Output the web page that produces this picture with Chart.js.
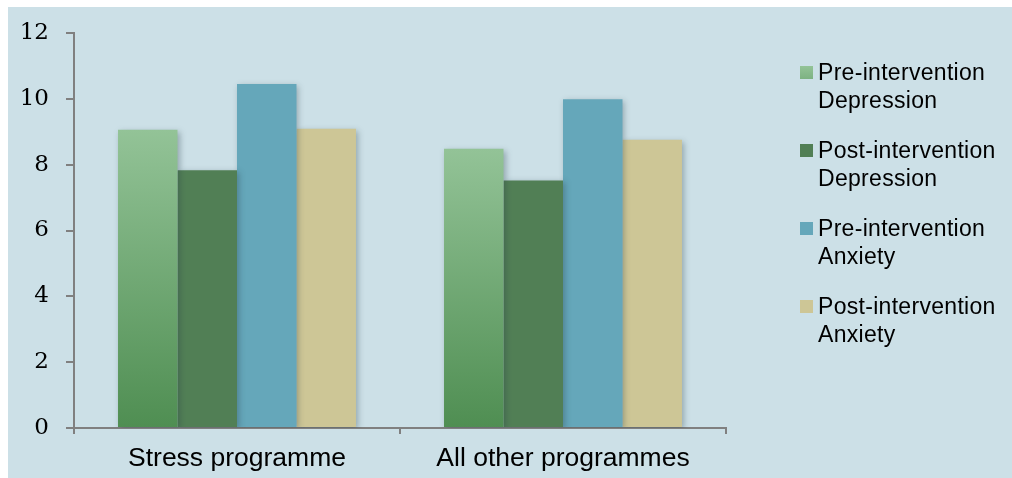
<!DOCTYPE html>
<html>
<head>
<meta charset="utf-8">
<script src="https://cdn.jsdelivr.net/npm/chart.js@4.4.1/dist/chart.umd.min.js"></script>
<style>
	html, body { margin: 0; padding: 0; background: #ffffff; }
	#wrap { position: relative; width: 1012px; height: 478px; overflow: hidden; }
	#panel { position: absolute; left: 8px; top: 7px; right: 0; bottom: 0; background: #cce0e7; }
	#chart-canvas { position: absolute; left: 0; top: 0; }
	#legend { position: absolute; left: 800px; top: 58px; font-family: "Liberation Sans", Arial, sans-serif; font-size: 23px; line-height: 28px; letter-spacing: 0.3px; color: #000; }
	.legend-item { position: relative; padding-left: 18px; margin-bottom: 22px; }
	.legend-box { position: absolute; left: 0; top: 8px; width: 13px; height: 13px; }
</style>
</head>
<body>
<div id="wrap">
	<div id="panel"></div>
	<canvas id="chart-canvas" width="1012" height="478"></canvas>
	<div id="legend"></div>
</div>
<script>
var categories = ["Stress programme", "All other programmes"];
var seriesNames = [
	["Pre-intervention", "Depression"],
	["Post-intervention", "Depression"],
	["Pre-intervention", "Anxiety"],
	["Post-intervention", "Anxiety"]
];
var preDepression = [9.06, 8.48];
var postDepression = [7.83, 7.52];
var preAnxiety = [10.45, 9.99];
var postAnxiety = [9.09, 8.76];
var yTicks = [0, 2, 4, 6, 8, 10, 12];

var seriesColors = ["#93c397", "#517f55", "#65a7ba", "#cdc696"];
var gradientBottom = "#4f8e52";

function preDepressionFill(context) {
	var chart = context.chart;
	if(!chart.chartArea || !chart.scales.y)
		return seriesColors[0];
	var top = chart.scales.y.getPixelForValue(context.raw);
	var bottom = chart.scales.y.getPixelForValue(0);
	if(!isFinite(top) || top === bottom)
		return seriesColors[0];
	var gradient = chart.ctx.createLinearGradient(0, top, 0, bottom);
	gradient.addColorStop(0, seriesColors[0]);
	gradient.addColorStop(1, gradientBottom);
	return gradient;
}

var barShadow = {
	id: 'barShadow',
	beforeDatasetsDraw: function(chart) {
		var ctx = chart.ctx;
		ctx.save();
		ctx.shadowColor = 'rgba(40, 60, 70, 0.35)';
		ctx.shadowBlur = 6;
		ctx.shadowOffsetX = 2;
		ctx.shadowOffsetY = 2;
	},
	afterDatasetsDraw: function(chart) {
		chart.ctx.restore();
	}
};

function buildLegend() {
	var legend = document.getElementById("legend");
	for(let i = 0; i < seriesNames.length; i++) {
		var item = document.createElement("div");
		var box = document.createElement("span");
		item.className = "legend-item";
		box.className = "legend-box";
		box.style.background = i === 0 ? "linear-gradient(" + seriesColors[0] + ", #7db282)" : seriesColors[i];
		item.appendChild(box);
		item.appendChild(document.createTextNode(seriesNames[i][0]));
		item.appendChild(document.createElement("br"));
		item.appendChild(document.createTextNode(seriesNames[i][1]));
		legend.appendChild(item);
	}
}

window.onload = function() {
	buildLegend();

	var seriesData = [preDepression, postDepression, preAnxiety, postAnxiety];
	var datasets = [];
	for(let i = 0; i < seriesData.length; i++)
		datasets.push({
			label: seriesNames[i].join(" "),
			data: seriesData[i],
			backgroundColor: i === 0 ? preDepressionFill : seriesColors[i],
			borderWidth: 0,
			barPercentage: 1,
			categoryPercentage: 0.73
		});

	window.resultsChart = new Chart(document.getElementById("chart-canvas"), {
		type: 'bar',
		data: {
			labels: categories,
			datasets: datasets
		},
		options: {
			responsive: false,
			animation: false,
			layout: {
				padding: { left: 10, top: 33, right: 286, bottom: 0 }
			},
			plugins: {
				legend: { display: false },
				tooltip: { enabled: false }
			},
			scales: {
				x: {
					grid: {
						offset: true,
						drawOnChartArea: false,
						drawTicks: true,
						tickLength: 6,
						color: '#808080',
						lineWidth: 2
					},
					border: { color: '#808080', width: 2 },
					ticks: {
						color: '#000000',
						padding: 9,
						font: { family: "'Liberation Sans', Arial, sans-serif", size: 26.5 }
					},
					afterFit: function(scale) { scale.height = 50; }
				},
				y: {
					min: 0,
					max: 12,
					afterBuildTicks: function(scale) {
						scale.ticks = yTicks.map(function(v) { return { value: v }; });
					},
					grid: {
						drawOnChartArea: false,
						drawTicks: true,
						tickLength: 8,
						color: '#808080',
						lineWidth: 2
					},
					border: { color: '#808080', width: 2 },
					ticks: {
						color: '#000000',
						padding: 17,
						font: { family: "'DejaVu Serif', 'Liberation Serif', serif", size: 23 }
					},
					afterFit: function(scale) { scale.width = 64; }
				}
			}
		},
		plugins: [barShadow]
	});
};
</script>
</body>
</html>
